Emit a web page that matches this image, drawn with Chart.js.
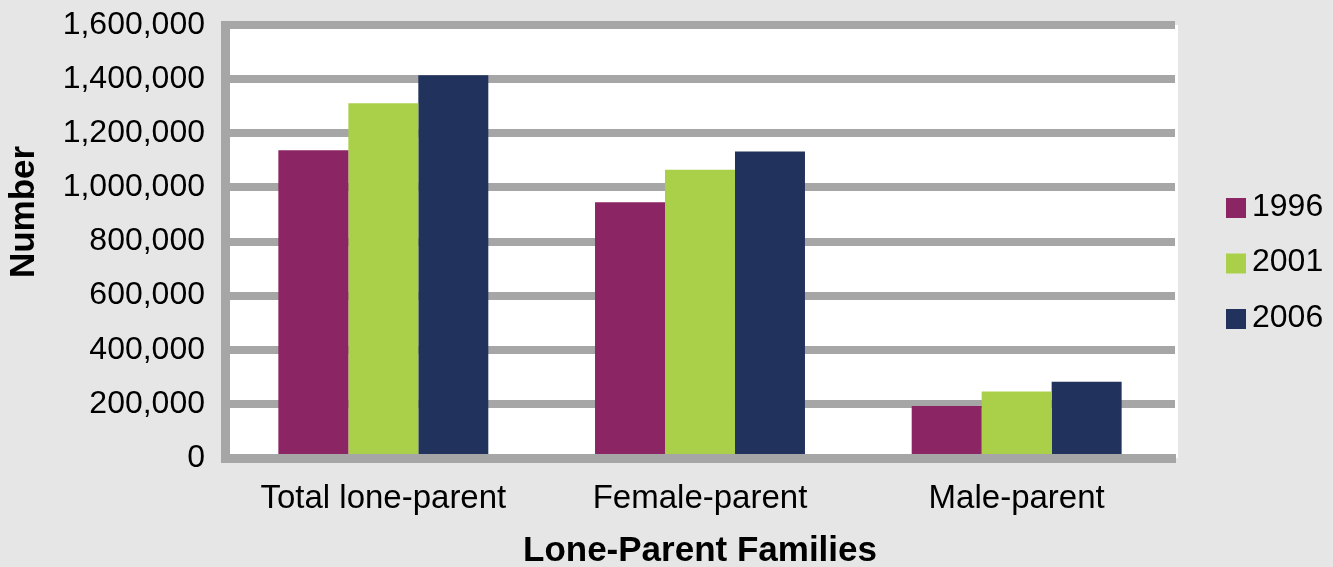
<!DOCTYPE html>
<html>
<head>
<meta charset="utf-8">
<script src="https://cdn.jsdelivr.net/npm/chart.js@4.4.1/dist/chart.umd.min.js"></script>
<style>
    html, body { margin: 0; padding: 0; background: #e6e6e6; }
    #wrap { width: 1333px; height: 567px; }
</style>
</head>
<body>
<div id="wrap"><canvas id="myChart"></canvas></div>
<script>
const categories = ['Total lone-parent', 'Female-parent', 'Male-parent'];
const years = ['1996', '2001', '2006'];
const values1996 = [1137510, 945230, 192275];
const values2001 = [1311190, 1065360, 245825];
const values2006 = [1414060, 1132290, 281775];
const yTickValues = [0, 200000, 400000, 600000, 800000, 1000000, 1200000, 1400000, 1600000];

const colores = ['#8b2563', '#aacf48', '#21325d'];
const fuente = '"Liberation Sans", Arial, Helvetica, sans-serif';
const gris = '#a6a6a6';

// fondo blanco del area de trazado
const fondoPlugin = {
    id: 'fondo',
    beforeDraw(chart) {
        const { ctx, chartArea } = chart;
        ctx.save();
        ctx.fillStyle = '#ffffff';
        ctx.fillRect(chartArea.left, chartArea.top, chartArea.right - chartArea.left + 3, chartArea.bottom - chartArea.top);
        ctx.restore();
    }
};

// titulo del eje y (va un poco por encima del centro, como en el original)
const tituloYPlugin = {
    id: 'tituloY',
    afterDraw(chart) {
        const ctx = chart.ctx;
        ctx.save();
        ctx.translate(24, 212);
        ctx.rotate(-Math.PI / 2);
        ctx.font = 'bold 35px ' + fuente;
        ctx.fillStyle = '#000000';
        ctx.textAlign = 'center';
        ctx.textBaseline = 'middle';
        ctx.fillText('Number', 0, 0);
        ctx.restore();
    }
};

// leyenda a la derecha, cuadros pequenos
const leyendaPlugin = {
    id: 'leyenda',
    afterDraw(chart) {
        const { ctx, chartArea } = chart;
        ctx.save();
        ctx.font = '32px ' + fuente;
        ctx.textBaseline = 'middle';
        ctx.textAlign = 'left';
        chart.data.datasets.forEach((ds, i) => {
            const x = chartArea.right + 51;
            const y = 208 + i * 55.5;
            ctx.fillStyle = ds.backgroundColor;
            ctx.fillRect(x, y - 10, 20, 20);
            ctx.fillStyle = '#000000';
            ctx.fillText(ds.label, x + 26, y - 1);
        });
        ctx.restore();
    }
};

const series = [values1996, values2001, values2006];

new Chart(document.getElementById('myChart'), {
    type: 'bar',
    data: {
        labels: categories,
        datasets: years.map((y, i) => ({
            label: y,
            data: series[i],
            backgroundColor: colores[i],
            borderWidth: 0,
            categoryPercentage: 0.663,
            barPercentage: 1
        }))
    },
    options: {
        responsive: true,
        maintainAspectRatio: false,
        animation: false,
        layout: { padding: { top: 25, right: 158, bottom: 0, left: 0 } },
        plugins: {
            legend: { display: false },
            tooltip: { enabled: false }
        },
        scales: {
            x: {
                z: 1,
                grid: { display: false, drawTicks: false },
                border: { display: true, color: gris, width: 9 },
                ticks: { color: '#000', font: { family: fuente, size: 33 }, padding: 21 },
                title: {
                    display: true,
                    text: 'Lone-Parent Families',
                    color: '#000',
                    font: { family: fuente, size: 35, weight: 'bold', lineHeight: 1 },
                    padding: { top: 0, bottom: -2 }
                },
                afterFit(scale) {
                    scale.height = 109;
                    scale.paddingLeft = 0;
                    scale.paddingRight = 0;
                }
            },
            y: {
                min: 0,
                max: 1600000,
                afterBuildTicks(scale) { scale.ticks = yTickValues.map(v => ({ value: v })); },
                grid: { color: gris, lineWidth: 8, drawTicks: false },
                border: { display: true, color: gris, width: 9 },
                ticks: {
                    color: '#000',
                    font: { family: fuente, size: 32 },
                    padding: 20,
                    callback: v => v.toLocaleString('en-US')
                },
                title: { display: false },
                afterFit(scale) {
                    scale.width = 225;
                    scale.paddingTop = 0;
                    scale.paddingBottom = 0;
                }
            }
        }
    },
    plugins: [fondoPlugin, tituloYPlugin, leyendaPlugin]
});
</script>
</body>
</html>
